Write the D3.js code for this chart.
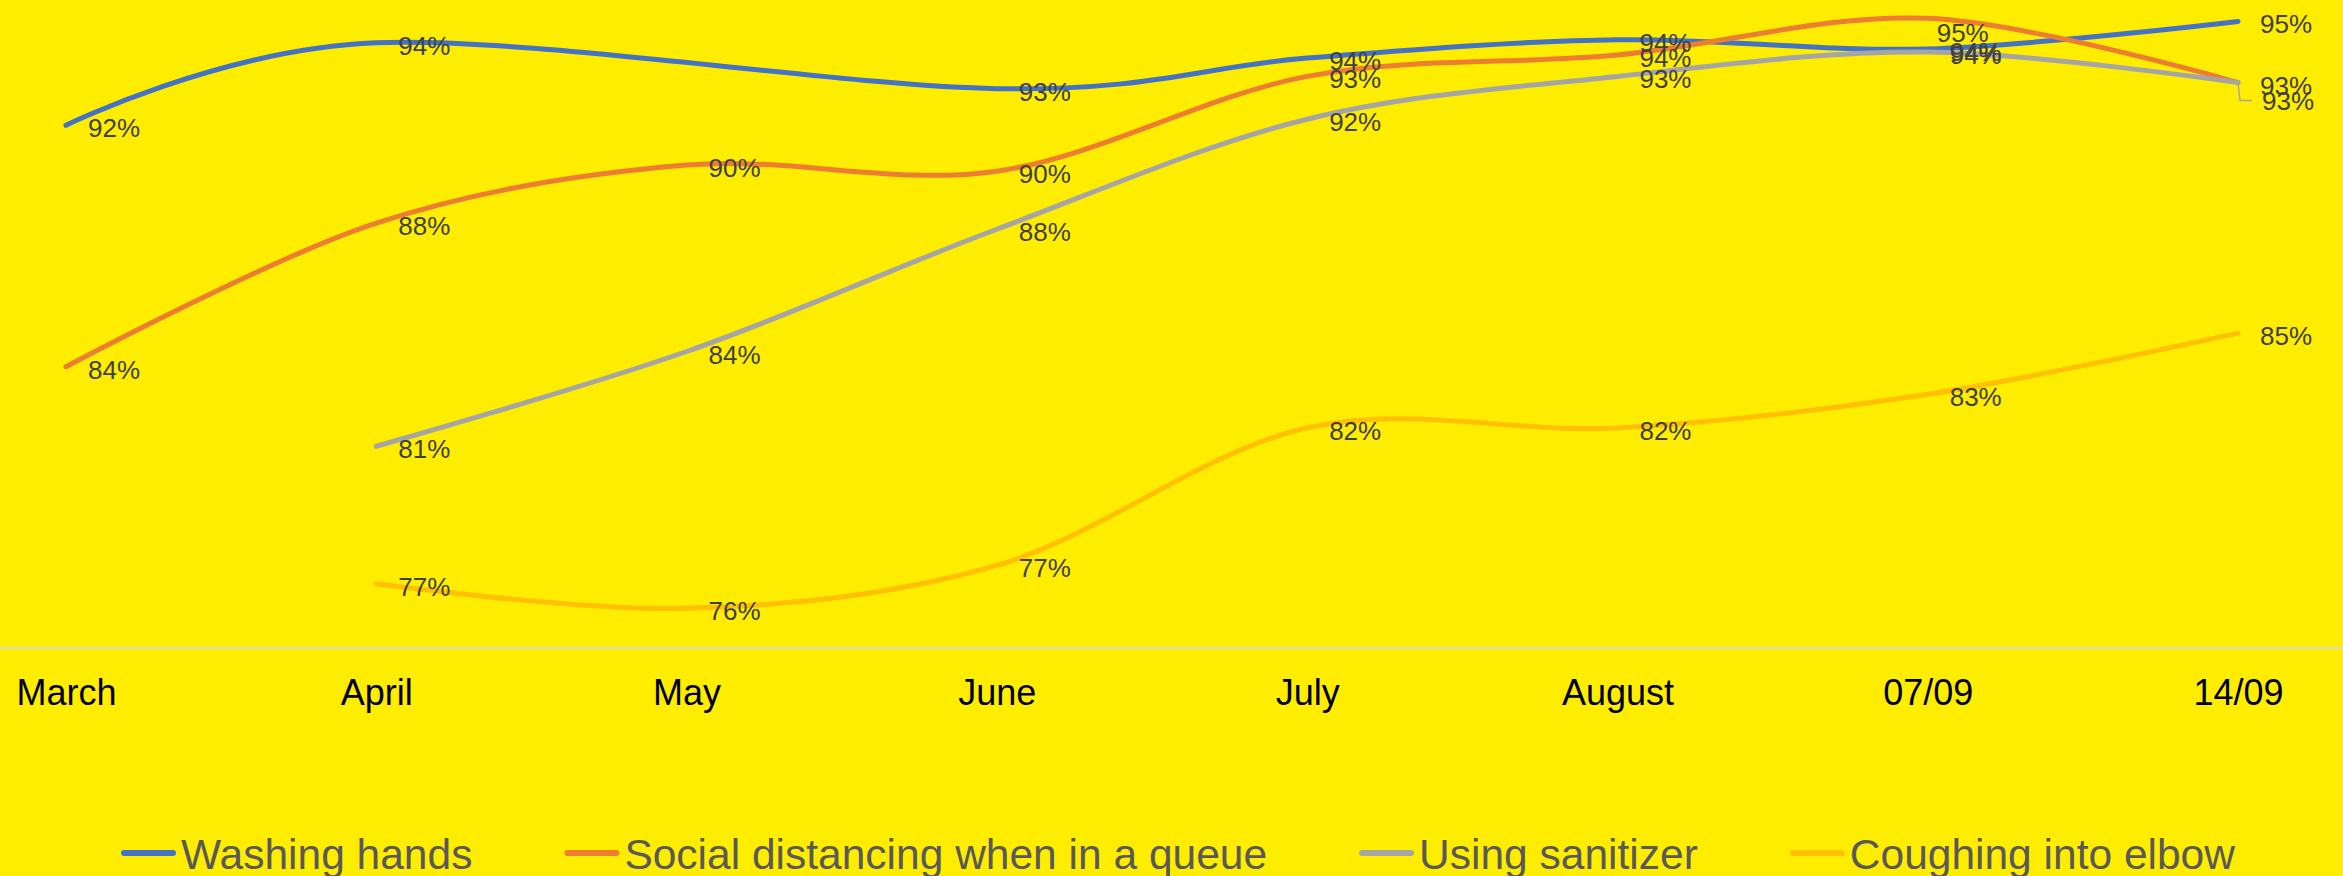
<!DOCTYPE html>
<html>
<head>
<meta charset="utf-8">
<script src="https://cdn.jsdelivr.net/npm/d3@7"></script>
<style>
	body {margin:0; background:#FFED00;}
	svg {display:block;}
</style>
</head>
<body>
<div id="chart"></div>
<script>
var W = 2343, H = 876;

// survey waves
var months = ["March","April","May","June","July","August","07/09","14/09"];

// share of respondents (null = not asked that wave)
var washingHands     = [0.916, 0.943, null,  0.928, 0.938, 0.944, 0.941, 0.950];
var socialDistancing = [0.837, 0.884, 0.903, 0.901, 0.932, 0.939, 0.951, 0.930];
var usingSanitizer   = [null,  0.811, 0.842, 0.882, 0.918, 0.932, 0.940, 0.930];
var coughingElbow    = [null,  0.766, 0.758, 0.772, 0.817, 0.817, 0.828, 0.848];

var seriesNames = ["Washing hands","Social distancing when in a queue","Using sanitizer","Coughing into elbow"];
var colors = ["#4472C4","#ED7D31","#A5A5A5","#FFC000"];

var series = [washingHands, socialDistancing, usingSanitizer, coughingElbow].map(function(vals,i){
	return {
		name: seriesNames[i],
		color: colors[i],
		values: vals.map(function(v,j){return {m: months[j], v: v}}).filter(function(d){return d.v != null})
	}
})

var x = d3.scalePoint().domain(months).range([66, 2238]);
var y = d3.scaleLinear().domain([0.745, 0.957]).range([648, 0]);
var pct = d3.format(".0%");

var svg = d3.select("#chart").append("svg")
	.attr("width", W)
	.attr("height", H)
	.style("background", "#FFED00");

// category axis line, full width
svg.append("line")
	.attr("x1", 0).attr("x2", W)
	.attr("y1", y.range()[0]).attr("y2", y.range()[0])
	.attr("stroke", "#D9D9D9")
	.attr("stroke-width", 2);

var xAxis = d3.axisBottom(x).tickSize(0).tickPadding(0);
var gx = svg.append("g")
	.attr("transform", "translate(0,705)")
	.call(xAxis);
gx.select(".domain").remove();
gx.selectAll("text")
	.attr("y", 0).attr("dy", 0)
	.style("font-family", "'Liberation Sans', Arial, sans-serif")
	.style("font-size", "36px")
	.attr("fill", "#000");

var line = d3.line()
	.x(function(d){return x(d.m)})
	.y(function(d){return y(d.v)})
	.curve(d3.curveCardinal.tension(0));

svg.selectAll(".series")
	.data(series)
	.enter()
	.append("path")
	.attr("class", "series")
	.attr("d", function(d){return line(d.values)})
	.attr("fill", "none")
	.attr("stroke", function(d){return d.color})
	.attr("stroke-width", 5)
	.attr("stroke-linecap", "round")
	.attr("stroke-linejoin", "round");

// label offsets where excel moved things around
function labelShift(si, m){
	if(si == 1 && m == "07/09") return [-13, 15];
	if(si == 2 && m == "14/09") return [2, 18];
	return [0, 3];
}

// leader line for the sanitizer label on the last point
var last = months[months.length-1];
svg.append("path")
	.attr("d", "M" + x(last) + "," + y(usingSanitizer[7]) + " L" + (x(last)+2) + "," + (y(usingSanitizer[7])+18) + " L" + (x(last)+14) + "," + (y(usingSanitizer[7])+18))
	.attr("fill", "none")
	.attr("stroke", "#A5A5A5")
	.attr("stroke-width", 1.5);

series.forEach(function(s, si){
	svg.selectAll(".lab" + si)
		.data(s.values)
		.enter()
		.append("text")
		.attr("class", "lab" + si)
		.attr("x", function(d){return x(d.m) + 22 + labelShift(si, d.m)[0]})
		.attr("y", function(d){return y(d.v) + labelShift(si, d.m)[1]})
		.attr("dominant-baseline", "central")
		.style("font-family", "'Liberation Sans', Arial, sans-serif")
		.style("font-size", "26px")
		.attr("fill", "#404040")
		.text(function(d){return pct(d.v)});
})

// legend
var legend = svg.append("g");
var lx = 0;
series.forEach(function(s){
	var g = legend.append("g").attr("transform", "translate(" + lx + ",0)");
	g.append("line")
		.attr("x1", 3).attr("x2", 52)
		.attr("y1", 853).attr("y2", 853)
		.attr("stroke", s.color)
		.attr("stroke-width", 6)
		.attr("stroke-linecap", "round");
	var t = g.append("text")
		.attr("x", 60)
		.attr("y", 869)
		.style("font-family", "'Liberation Sans', Arial, sans-serif")
		.style("font-size", "42.5px")
		.attr("fill", "#595959")
		.text(s.name);
	lx += 60 + t.node().getComputedTextLength() + 92;
})
lx -= 92;
legend.attr("transform", "translate(" + Math.round(W/2 - lx/2 + 6) + ",0)");
</script>
</body>
</html>
